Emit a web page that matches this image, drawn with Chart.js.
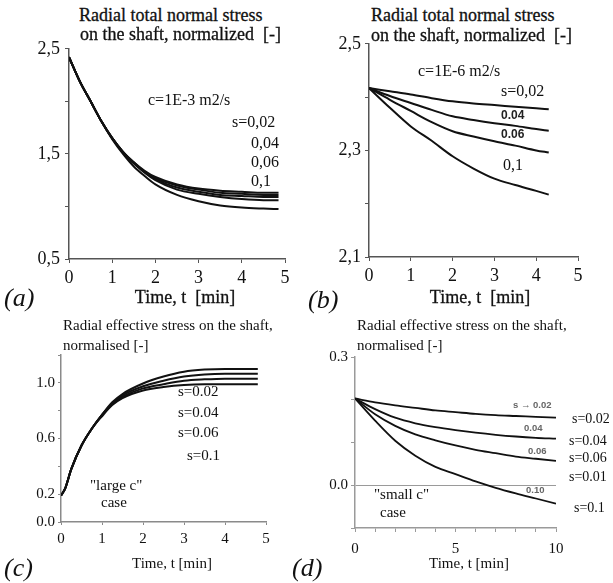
<!DOCTYPE html>
<html>
<head>
<meta charset="utf-8">
<script src="https://cdn.jsdelivr.net/npm/chart.js@4.4.1/dist/chart.umd.min.js"></script>
<style>
  body { margin: 0; background: #fff; }
  #page { position: relative; width: 613px; height: 583px; overflow: hidden; background: #fff; }
  canvas { position: absolute; }
  .t { position: absolute; white-space: pre; line-height: 1; color: #111;
       font-family: 'Liberation Serif', 'Times New Roman', serif; transform: translateY(-50%); }
  .c { transform: translate(-50%, -50%); }
  .it { font-style: italic; font-size: 26px; }
  .big { font-size: 18px; -webkit-text-stroke: 0.3px #111; }
  .mid { font-size: 16px; }
  .sm { font-size: 15px; }
  .xs { font-size: 14px; }
  .tiny { font-family: 'Liberation Sans', Arial, sans-serif; font-weight: bold; font-size: 12px; color: #222; }
  .micro { font-family: 'Liberation Sans', Arial, sans-serif; font-weight: bold; font-size: 9.5px; color: #666; }
</style>
</head>
<body>
<div id="page">
  <canvas id="chartA" width="300" height="257" style="left:0;top:33px"></canvas>
  <canvas id="chartB" width="300" height="261" style="left:306px;top:29px"></canvas>
  <canvas id="chartC" width="300" height="209" style="left:0;top:341px"></canvas>
  <canvas id="chartD" width="307" height="217" style="left:306px;top:343px"></canvas>

  <!-- (a) -->
  <div class="t big" style="left:79px;top:15px">Radial total normal stress</div>
  <div class="t big" style="left:80px;top:34px">on the shaft, normalized  [-]</div>
  <div class="t mid" style="left:148px;top:100px">c=1E-3 m2/s</div>
  <div class="t mid" style="left:232px;top:122px">s=0,02</div>
  <div class="t mid" style="left:251px;top:143px">0,04</div>
  <div class="t mid" style="left:251px;top:162px">0,06</div>
  <div class="t mid" style="left:251px;top:181px">0,1</div>
  <div class="t c big" style="left:185px;top:297px">Time, t  [min]</div>
  <div class="t it" style="left:4px;top:298px">(a)</div>

  <!-- (b) -->
  <div class="t big" style="left:371px;top:15px">Radial total normal stress</div>
  <div class="t big" style="left:371px;top:35px">on the shaft, normalized  [-]</div>
  <div class="t mid" style="left:418px;top:71px">c=1E-6 m2/s</div>
  <div class="t mid" style="left:501px;top:91px">s=0,02</div>
  <div class="t tiny" style="left:501px;top:115px">0.04</div>
  <div class="t tiny" style="left:501px;top:134px">0.06</div>
  <div class="t mid" style="left:503px;top:165px">0,1</div>
  <div class="t c big" style="left:480px;top:297px">Time, t  [min]</div>
  <div class="t it" style="left:308px;top:300px">(b)</div>

  <!-- (c) -->
  <div class="t sm" style="left:63px;top:325px">Radial effective stress on the shaft,</div>
  <div class="t sm" style="left:63px;top:345px">normalised [-]</div>
  <div class="t sm" style="left:178px;top:391px">s=0.02</div>
  <div class="t sm" style="left:178px;top:412px">s=0.04</div>
  <div class="t sm" style="left:178px;top:432px">s=0.06</div>
  <div class="t sm" style="left:187px;top:455px">s=0.1</div>
  <div class="t sm" style="left:90px;top:485px">"large c"</div>
  <div class="t sm" style="left:101px;top:502px">case</div>
  <div class="t c sm" style="left:172px;top:563px">Time, t [min]</div>
  <div class="t it" style="left:4px;top:568px">(c)</div>

  <!-- (d) -->
  <div class="t sm" style="left:357px;top:325px">Radial effective stress on the shaft,</div>
  <div class="t sm" style="left:357px;top:345px">normalised [-]</div>
  <div class="t micro" style="left:513px;top:405px">s → 0.02</div>
  <div class="t micro" style="left:524px;top:428px">0.04</div>
  <div class="t micro" style="left:528px;top:451px">0.06</div>
  <div class="t micro" style="left:526px;top:490px">0.10</div>
  <div class="t xs" style="left:572px;top:419px">s=0.02</div>
  <div class="t xs" style="left:569px;top:441px">s=0.04</div>
  <div class="t xs" style="left:569px;top:458px">s=0.06</div>
  <div class="t xs" style="left:569px;top:477px">s=0.01</div>
  <div class="t xs" style="left:574px;top:508px">s=0.1</div>
  <div class="t sm" style="left:374px;top:494px">"small c"</div>
  <div class="t sm" style="left:380px;top:512px">case</div>
  <div class="t c sm" style="left:469px;top:563px">Time, t [min]</div>
  <div class="t it" style="left:292px;top:568px">(d)</div>
</div>

<script>
// (a) total normal stress, c = 1E-3 m2/s
const timeA = [0, 0.25, 0.5, 0.75, 1, 1.25, 1.5, 1.75, 2, 2.5, 3, 3.5, 4, 4.5, 4.85];
const totalA1 = [2.42, 2.19, 2.00, 1.81, 1.65, 1.52, 1.42, 1.34, 1.28, 1.21, 1.17, 1.15, 1.14, 1.13, 1.13];
const totalA2 = [2.42, 2.19, 2.00, 1.81, 1.65, 1.52, 1.42, 1.33, 1.27, 1.20, 1.16, 1.13, 1.12, 1.11, 1.11];
const totalA3 = [2.42, 2.19, 2.00, 1.81, 1.65, 1.52, 1.41, 1.33, 1.26, 1.18, 1.14, 1.11, 1.10, 1.09, 1.09];
const totalA4 = [2.42, 2.19, 2.00, 1.81, 1.65, 1.51, 1.41, 1.32, 1.25, 1.16, 1.12, 1.09, 1.07, 1.06, 1.06];
const totalA5 = [2.42, 2.19, 2.00, 1.81, 1.64, 1.50, 1.38, 1.29, 1.21, 1.11, 1.05, 1.01, 0.99, 0.98, 0.975];
const yTicksA = [0.5, 1.5, 2.5];

// (b) total normal stress, c = 1E-6 m2/s
const timeB = [0, 0.5, 1, 1.5, 2, 2.5, 3, 3.5, 4, 4.3];
const totalB002 = [2.417, 2.411, 2.405, 2.398, 2.392, 2.388, 2.385, 2.382, 2.379, 2.377];
const totalB004 = [2.417, 2.402, 2.389, 2.376, 2.364, 2.357, 2.351, 2.346, 2.340, 2.337];
const totalB006 = [2.417, 2.395, 2.374, 2.353, 2.336, 2.326, 2.317, 2.309, 2.300, 2.296];
const totalB010 = [2.417, 2.380, 2.345, 2.318, 2.289, 2.266, 2.247, 2.235, 2.224, 2.217];
const yTicksB = [2.1, 2.3, 2.5];

// (c) effective stress, "large c"
const timeC = [0, 0.1, 0.25, 0.5, 0.75, 1, 1.25, 1.5, 2, 2.5, 3, 3.5, 4, 4.8];
const effC002 = [0.19, 0.24, 0.38, 0.55, 0.67, 0.77, 0.86, 0.92, 0.995, 1.045, 1.08, 1.095, 1.10, 1.10];
const effC004 = [0.19, 0.24, 0.38, 0.55, 0.67, 0.77, 0.85, 0.91, 0.975, 1.015, 1.045, 1.06, 1.065, 1.065];
const effC006 = [0.19, 0.24, 0.38, 0.55, 0.67, 0.77, 0.85, 0.90, 0.96, 0.99, 1.015, 1.025, 1.03, 1.03];
const effC010 = [0.19, 0.24, 0.38, 0.55, 0.67, 0.76, 0.84, 0.89, 0.945, 0.97, 0.985, 0.99, 0.99, 0.99];
const yTicksC = [0.0, 0.2, 0.6, 1.0];

// (d) effective stress, "small c"
const timeD = [0, 1, 2, 3, 4, 5, 6, 7, 8, 9, 10];
const effD002 = [0.203, 0.194, 0.187, 0.181, 0.175, 0.171, 0.167, 0.164, 0.162, 0.160, 0.158];
const effD004 = [0.203, 0.178, 0.158, 0.145, 0.136, 0.129, 0.123, 0.118, 0.114, 0.111, 0.109];
const effD006 = [0.203, 0.166, 0.139, 0.119, 0.105, 0.093, 0.083, 0.075, 0.067, 0.062, 0.057];
const effD010 = [0.203, 0.151, 0.104, 0.069, 0.043, 0.026, 0.009, -0.006, -0.019, -0.031, -0.043];
const yTicksD = [0.0, 0.3];
const xTicksD = [0, 5, 10];

const SERIF = "'Liberation Serif', 'Times New Roman', serif";

function curves(xs, list, width) {
    return list.map(ys => ({
        data: xs.map((x, i) => ({ x: x, y: ys[i] })),
        borderColor: '#111',
        borderWidth: width,
        pointRadius: 0,
        fill: false,
        cubicInterpolationMode: 'monotone'
    }));
}

const near = (a, b) => Math.abs(a - b) < 1e-6;

// builds the options of one panel; padding + fixed axis box sizes pin the plot area
function panel(p) {
    const axisLine = { color: p.axisColor, width: p.axisWidth };
    return {
        responsive: false,
        animation: false,
        layout: { padding: p.padding },
        plugins: { legend: { display: false }, tooltip: { enabled: false } },
        scales: {
            x: {
                type: 'linear',
                min: p.xMin, max: p.xMax,
                border: axisLine,
                grid: { drawOnChartArea: false, tickLength: p.tickLen, tickColor: p.axisColor },
                ticks: {
                    stepSize: p.xStep,
                    padding: p.xPad,
                    color: '#111',
                    font: { family: SERIF, size: p.fontSize },
                    maxRotation: 0,
                    callback: v => (!p.xLabels || p.xLabels.some(t => near(t, v))) ? String(Math.round(v)) : ''
                },
                afterFit: s => { s.height = p.xAxisH; }
            },
            y: {
                min: p.yMin, max: p.yMax,
                border: axisLine,
                grid: {
                    drawOnChartArea: !!p.zeroLine,
                    color: c => (p.zeroLine && c.tick && near(c.tick.value, 0)) ? '#9a9a9a' : 'rgba(0,0,0,0)',
                    tickLength: p.tickLen,
                    tickColor: p.axisColor
                },
                ticks: {
                    stepSize: p.yStep,
                    padding: p.yPad,
                    color: '#111',
                    font: { family: SERIF, size: p.fontSize },
                    callback: v => p.yLabels.some(t => near(t, v)) ? p.fmt(v) : ''
                },
                afterFit: s => { s.width = p.yAxisW; }
            }
        }
    };
}

const comma = v => v.toFixed(1).replace('.', ',');
const dot = v => v.toFixed(1);

new Chart(document.getElementById('chartA'), {
    type: 'line',
    data: { datasets: curves(timeA, [totalA1, totalA2, totalA3, totalA4, totalA5], 2) },
    options: panel({
        xMin: 0, xMax: 5, xStep: 1, yMin: 0.5, yMax: 2.5, yStep: 0.5,
        yLabels: yTicksA, fmt: comma,
        padding: { top: 14, right: 15, bottom: 0, left: 0 },
        yAxisW: 69, xAxisH: 31, tickLen: 4, xPad: 4, yPad: 5,
        fontSize: 18, axisColor: '#555', axisWidth: 1.5
    })
});

new Chart(document.getElementById('chartB'), {
    type: 'line',
    data: { datasets: curves(timeB, [totalB002, totalB004, totalB006, totalB010], 2) },
    options: panel({
        xMin: 0, xMax: 5, xStep: 1, yMin: 2.1, yMax: 2.5, yStep: 0.1,
        yLabels: yTicksB, fmt: comma,
        padding: { top: 14, right: 28, bottom: 0, left: 0 },
        yAxisW: 63, xAxisH: 33, tickLen: 4, xPad: 4, yPad: 4,
        fontSize: 18, axisColor: '#555', axisWidth: 1.5
    })
});

new Chart(document.getElementById('chartC'), {
    type: 'line',
    data: { datasets: curves(timeC, [effC002, effC004, effC006, effC010], 2) },
    options: panel({
        xMin: 0, xMax: 5, xStep: 1, yMin: 0, yMax: 1.2, yStep: 0.2,
        yLabels: yTicksC, fmt: dot,
        padding: { top: 14, right: 34, bottom: 0, left: 0 },
        yAxisW: 61, xAxisH: 28, tickLen: 3, xPad: 5, yPad: 3,
        fontSize: 15, axisColor: '#8a8a8a', axisWidth: 1.5
    })
});

new Chart(document.getElementById('chartD'), {
    type: 'line',
    data: { datasets: curves(timeD, [effD002, effD004, effD006, effD010], 1.8) },
    options: panel({
        xMin: 0, xMax: 10, xStep: 1, xLabels: xTicksD, yMin: -0.1, yMax: 0.3, yStep: 0.1,
        yLabels: yTicksD, fmt: dot, zeroLine: true,
        padding: { top: 14, right: 57, bottom: 0, left: 0 },
        yAxisW: 49, xAxisH: 32, tickLen: 4, xPad: 8, yPad: 3,
        fontSize: 15, axisColor: '#9a9a9a', axisWidth: 1.5
    })
});
</script>
</body>
</html>
